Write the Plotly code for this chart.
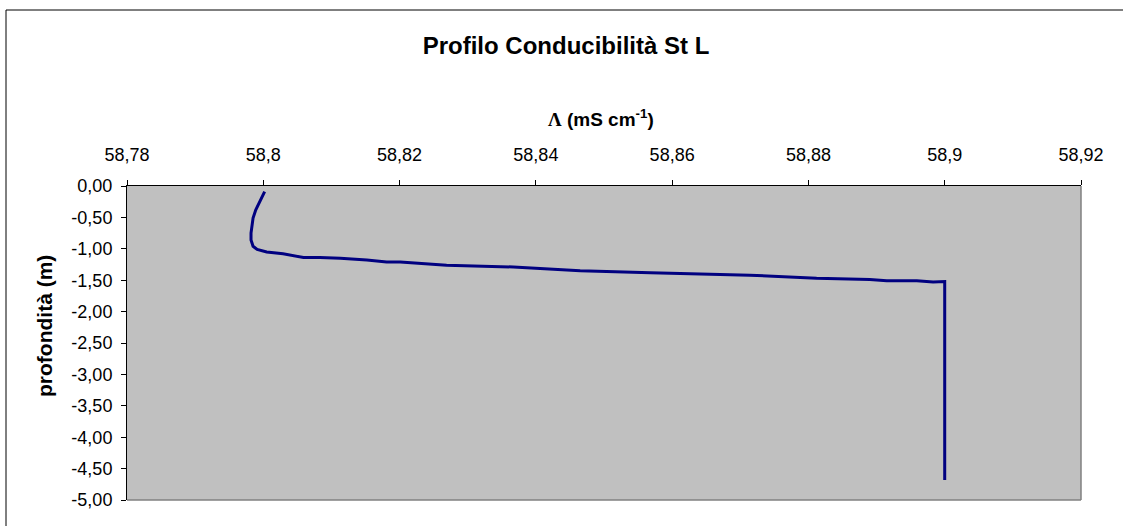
import plotly.graph_objects as go

# Data
conducibilita = [58.8002, 58.7995, 58.7989, 58.7985, 58.7983, 58.7982, 58.7982, 58.7985,
                 58.7991, 58.8005, 58.8029, 58.8059, 58.8083, 58.8113, 58.8152, 58.8181,
                 58.8201, 58.8269, 58.8367, 58.8465, 58.8568, 58.8612, 58.8714, 58.8812,
                 58.8890, 58.8915, 58.8959, 58.8983, 58.9000, 58.9000, 58.9000, 58.9000,
                 58.9000]
profondita = [-0.09, -0.25, -0.38, -0.51, -0.65, -0.75, -0.86, -0.96, -1.01, -1.05, -1.08,
              -1.14, -1.14, -1.15, -1.18, -1.21, -1.21, -1.26, -1.29, -1.35, -1.38, -1.39,
              -1.42, -1.47, -1.49, -1.51, -1.51, -1.53, -1.52, -2.50, -3.60, -4.30, -4.68]

x_tickvals = [58.78, 58.80, 58.82, 58.84, 58.86, 58.88, 58.90, 58.92]
x_ticktext = ["58,78", "58,8", "58,82", "58,84", "58,86", "58,88", "58,9", "58,92"]
y_tickvals = [0, -0.5, -1, -1.5, -2, -2.5, -3, -3.5, -4, -4.5, -5]
y_ticktext = ["0,00", "-0,50", "-1,00", "-1,50", "-2,00", "-2,50", "-3,00", "-3,50",
              "-4,00", "-4,50", "-5,00"]

FONT = "Liberation Sans"

fig = go.Figure()
fig.add_trace(go.Scatter(
    x=conducibilita, y=profondita, mode="lines",
    line=dict(color="#000080", width=3),
    showlegend=False, hoverinfo="skip"))

fig.update_layout(
    width=1123, height=526,
    margin=dict(l=127, r=42, t=186, b=26),
    paper_bgcolor="white",
    plot_bgcolor="#C0C0C0",
    font=dict(family=FONT, color="black", size=18),
    title=dict(text="<b>Profilo Conducibilità St L</b>", x=(566 - 127) / 954, xref="paper",
               xanchor="center", y=1 - 46 / 526, yref="container", yanchor="middle",
               font=dict(family=FONT, size=24, color="black")),
    xaxis=dict(side="top", range=[58.78, 58.92], tickvals=x_tickvals, ticktext=x_ticktext,
               showgrid=False, zeroline=False, showline=True, linecolor="black", linewidth=1,
               ticks="outside", ticklen=5, tickcolor="black", ticklabelstandoff=12,
               tickfont=dict(family=FONT, size=18, color="black")),
    yaxis=dict(range=[-5, 0], tickvals=y_tickvals, ticktext=y_ticktext,
               showgrid=False, zeroline=False, showline=True, linecolor="black", linewidth=1,
               ticks="outside", ticklen=5, tickcolor="black", ticklabelstandoff=5,
               tickfont=dict(family=FONT, size=18, color="black")),
    annotations=[
        dict(text="<b><span style=\"font-family:'Liberation Serif'\">Λ</span> (mS cm<sup>-1</sup>)</b>",
             xref="paper", yref="paper",
             x=(601 - 127) / 954, y=(500 - 118) / 314, xanchor="center", yanchor="middle",
             showarrow=False, font=dict(family=FONT, size=19, color="black")),
        dict(text="<b>profondità (m)</b>", xref="paper", yref="paper",
             x=(44 - 127) / 954, y=(500 - 326) / 314, xanchor="center", yanchor="middle",
             textangle=-90, showarrow=False, font=dict(family=FONT, size=21, color="black")),
    ],
    shapes=[
        # right and bottom gray borders of plot area
        dict(type="line", xref="paper", yref="paper", x0=1, x1=1, y0=0, y1=1,
             line=dict(color="#808080", width=1.5)),
        dict(type="line", xref="paper", yref="paper", x0=0, x1=1, y0=0, y1=0,
             line=dict(color="#808080", width=1.5)),
        # outer chart frame
        dict(type="rect", xref="paper", yref="paper",
             x0=(6 - 127) / 954, x1=(1135 - 127) / 954,
             y0=(500 - 540) / 314, y1=(500 - 10) / 314,
             line=dict(color="black", width=1), fillcolor="rgba(0,0,0,0)", layer="below"),
    ],
)

fig.write_html("out.html")
